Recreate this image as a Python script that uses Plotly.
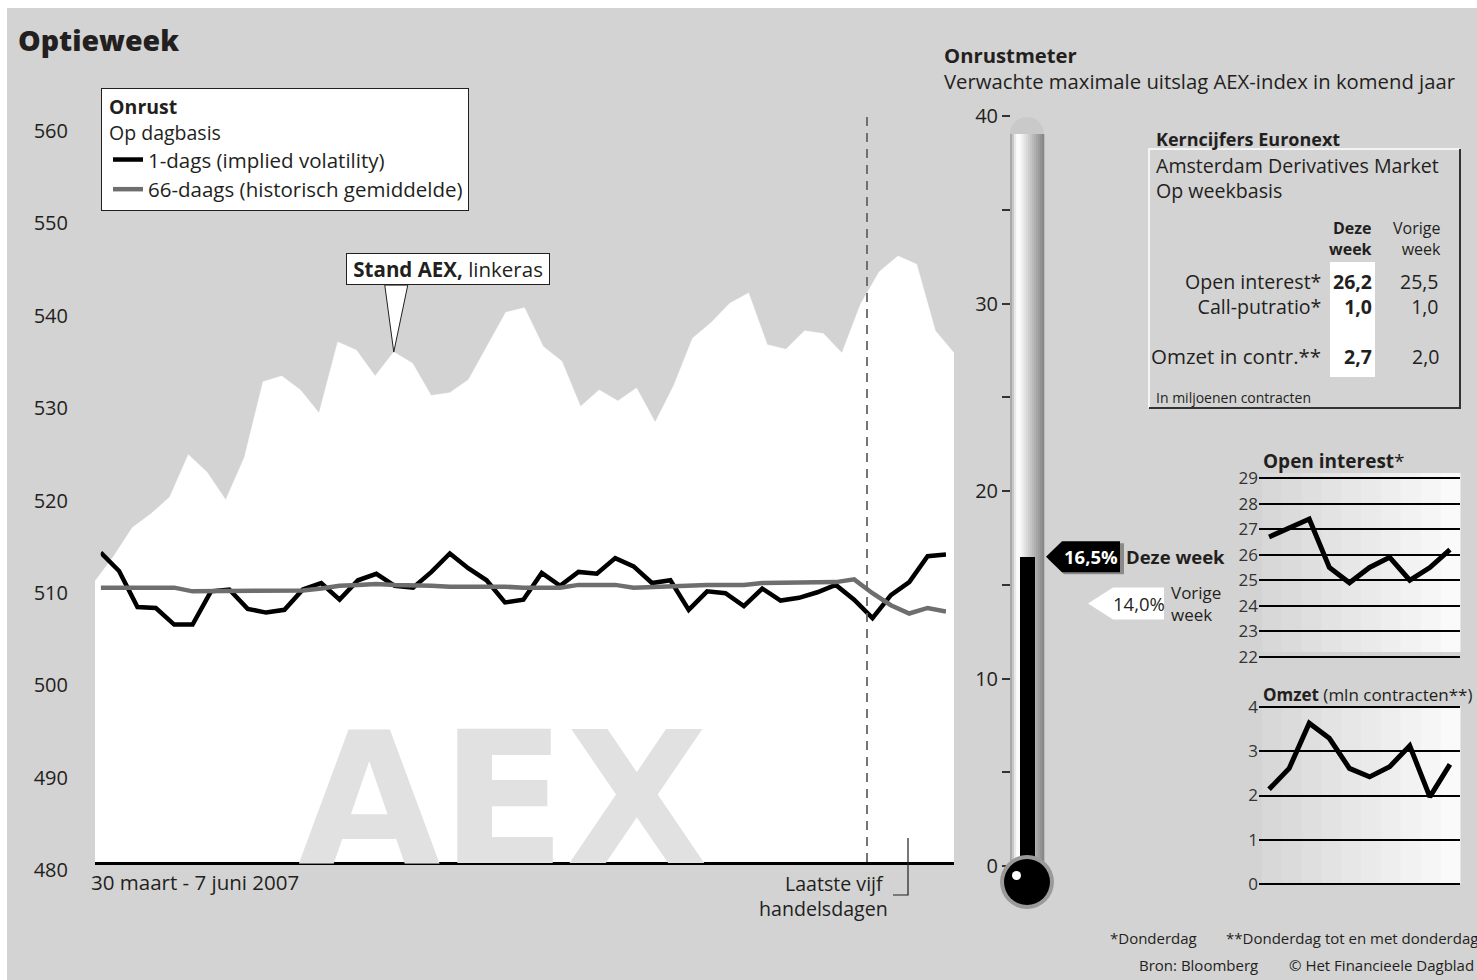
import plotly.graph_objects as go
import pandas as pd

W, H = 1477, 980
def px(x): return x / W
def py(y): return 1 - y / H

FONT = "'Open Sans', 'Noto Sans', sans-serif"
BG = "#d3d3d3"
INK = "#231f20"
BODY = 20.5

# ---------------- data ----------------
holidays = ["2007-04-06", "2007-04-09", "2007-05-01"]
dates = [d.strftime("%d-%m-%Y") for d in pd.bdate_range("2007-03-30", "2007-06-07")
         if d.strftime("%Y-%m-%d") not in holidays]

aex = [510.4, 513.1, 516.2, 517.7, 519.5, 524.1, 522.2, 519.2, 523.8, 532.0,
       532.6, 531.1, 528.6, 536.3, 535.4, 532.6, 535.2, 534.0, 530.5, 530.8,
       532.2, 535.8, 539.5, 540.0, 535.8, 534.2, 529.3, 531.1, 529.9, 531.3,
       527.6, 531.6, 536.7, 538.4, 540.5, 541.6, 536.0, 535.5, 537.5, 537.2,
       535.1, 540.4, 543.9, 545.6, 544.7, 537.5, 535.1]

vol_1d = [513.5, 511.5, 507.6, 507.5, 505.7, 505.7, 509.3, 509.5, 507.4, 507.0,
          507.3, 509.5, 510.2, 508.4, 510.5, 511.2, 509.9, 509.7, 511.4, 513.4,
          511.8, 510.5, 508.1, 508.4, 511.3, 509.9, 511.4, 511.2, 512.9, 512.0,
          510.2, 510.5, 507.3, 509.3, 509.1, 507.7, 509.6, 508.3, 508.6, 509.2,
          510.0, 508.4, 506.4, 508.9, 510.3, 513.1, 513.3]

vol_66d = [509.7, 509.7, 509.7, 509.7, 509.7, 509.3, 509.3, 509.4, 509.4, 509.4,
           509.3, 509.4, 509.6, 509.9, 510.0, 510.1, 510.0, 510.0, 509.9, 509.8,
           509.8, 509.9, 509.8, 509.7, 509.7, 509.7, 510.0, 510.0, 510.0, 509.7,
           509.8, 509.8, 510.0, 510.0, 510.0, 510.0, 510.2, 510.2, 510.2, 510.2,
           510.3, 510.6, 509.1, 507.8, 506.9, 507.5, 507.1]

aex_ticks = [480, 490, 500, 510, 520, 530, 540, 550, 560]

vol_this_week = 16.5
vol_prev_week = 14.0
thermo_ticks = [0, 5, 10, 15, 20, 25, 30, 35, 40]
thermo_labels = ["0", "", "10", "", "20", "", "30", "", "40"]

table_rows = ["Open interest*", "Call-putratio*", "Omzet in contr.**"]
table_this = [26.2, 1.0, 2.7]
table_prev = [25.5, 1.0, 2.0]

weeks = ["w-9", "w-8", "w-7", "w-6", "w-5", "w-4", "w-3", "w-2", "w-1", "w0"]
open_interest = [26.7, 27.05, 27.4, 25.5, 24.9, 25.5, 25.9, 25.0, 25.5, 26.2]
omzet = [2.14, 2.61, 3.63, 3.29, 2.61, 2.42, 2.65, 3.12, 1.97, 2.7]
oi_ticks = [22, 23, 24, 25, 26, 27, 28, 29]
om_ticks = [0, 1, 2, 3, 4]

def nl(v):
    return f"{v:.1f}".replace(".", ",")

fig = go.Figure()

# AEX white area
fig.add_trace(go.Scatter(x=dates, y=aex, mode="lines", fill="tozeroy",
                         fillcolor="white", line=dict(color="white", width=0.5),
                         showlegend=False, hoverinfo="skip", xaxis="x", yaxis="y"))
# volatility lines
fig.add_trace(go.Scatter(x=dates, y=vol_1d, mode="lines", name="1-dags (implied volatility)",
                         line=dict(color="black", width=4.5), xaxis="x2", yaxis="y"))
fig.add_trace(go.Scatter(x=dates, y=vol_66d, mode="lines", name="66-daags (historisch gemiddelde)",
                         line=dict(color="#6e6e6e", width=4.5), xaxis="x2", yaxis="y"))
# thermometer mercury
fig.add_trace(go.Bar(x=["Deze week"], y=[vol_this_week], marker=dict(color="black", line=dict(width=0)),
                     width=1, showlegend=False, xaxis="x3", yaxis="y3", hoverinfo="skip"))
# mini charts
fig.add_trace(go.Scatter(x=weeks, y=open_interest, mode="lines", line=dict(color="black", width=5),
                         showlegend=False, xaxis="x4", yaxis="y4"))
fig.add_trace(go.Scatter(x=weeks, y=omzet, mode="lines", line=dict(color="black", width=5),
                         showlegend=False, xaxis="x5", yaxis="y5"))

shapes = []
# page background
shapes.append(dict(type="rect", xref="paper", yref="paper", x0=px(7), x1=1, y0=0, y1=py(8),
                   fillcolor=BG, line=dict(width=0), layer="below"))

# mini chart gradient backgrounds
def grad_strips(x0, x1, y0, y1, n=10):
    out = []
    w = (x1 - x0) / n
    for i in range(n):
        c = int(216 + (250 - 216) * i / (n - 1))
        out.append(dict(type="rect", xref="paper", yref="paper",
                        x0=px(x0 + i * w), x1=px(x0 + (i + 1) * w + 0.5),
                        y0=py(y1), y1=py(y0), fillcolor=f"rgb({c},{c},{c})",
                        line=dict(width=0), layer="below"))
    return out
shapes += grad_strips(1262, 1460, 473, 652)
shapes += grad_strips(1262, 1460, 706, 884)

# thermometer tube
tube_cols = [168, 200, 232, 250, 252, 246, 236, 226, 216, 206, 196, 186, 176, 166, 156, 146, 136]
tx0 = 1010
sw = 2
shapes.append(dict(type="circle", xref="paper", yref="paper", x0=px(1010), x1=px(1044),
                   y0=py(151), y1=py(117), fillcolor="#c9c9c9", line=dict(width=0), layer="below"))
for i, c in enumerate(tube_cols):
    shapes.append(dict(type="rect", xref="paper", yref="paper",
                       x0=px(tx0 + i * sw), x1=px(tx0 + (i + 1) * sw + 0.3),
                       y0=py(870), y1=py(134), fillcolor=f"rgb({c},{c},{c})",
                       line=dict(width=0), layer="below"))
# bulb
shapes.append(dict(type="circle", xref="paper", yref="paper", x0=px(1000), x1=px(1054),
                   y0=py(909), y1=py(855), fillcolor="#9a9a9a", line=dict(width=0), layer="above"))
shapes.append(dict(type="circle", xref="paper", yref="paper", x0=px(1004), x1=px(1050),
                   y0=py(905), y1=py(859), fillcolor="black", line=dict(width=0), layer="above"))
shapes.append(dict(type="circle", xref="paper", yref="paper", x0=px(1012), x1=px(1021),
                   y0=py(880), y1=py(871), fillcolor="white", line=dict(width=0), layer="above"))

# markers on thermometer (anchored to values)
shapes.append(dict(type="path", xref="paper", yref="y3", xsizemode="pixel", ysizemode="pixel",
                   xanchor=px(1048), yanchor=vol_this_week,
                   path="M0,-2 L16,13.5 L76,13.5 L76,-17.5 L16,-17.5 Z",
                   fillcolor="#8a8a8a", line=dict(width=0), layer="above"))
shapes.append(dict(type="path", xref="paper", yref="y3", xsizemode="pixel", ysizemode="pixel",
                   xanchor=px(1046), yanchor=vol_this_week,
                   path="M0,0 L16,15.5 L74,15.5 L74,-15.5 L16,-15.5 Z",
                   fillcolor="black", line=dict(width=0), layer="above"))
shapes.append(dict(type="path", xref="paper", yref="y3", xsizemode="pixel", ysizemode="pixel",
                   xanchor=px(1088), yanchor=vol_prev_week,
                   path="M0,0 L25,16 L76,16 L76,-16 L25,-16 Z",
                   fillcolor="white", line=dict(width=0), layer="above"))

# dashed line "laatste vijf handelsdagen"
shapes.append(dict(type="line", xref="paper", yref="paper", x0=px(867), x1=px(867),
                   y0=py(862), y1=py(115), line=dict(color="#666666", width=1.8, dash="9px,7px"),
                   layer="above"))
shapes.append(dict(type="path", xref="paper", yref="paper",
                   path=f"M{px(908)},{py(838)} L{px(908)},{py(895)} L{px(893)},{py(895)}",
                   line=dict(color=INK, width=1.2)))

# callout wedge anchored at the AEX point
shapes.append(dict(type="path", xref="x", yref="y", xsizemode="pixel", ysizemode="pixel",
                   xanchor=dates[16], yanchor=aex[16],
                   path="M0,0 L-9,67 L14,67 Z", fillcolor="white",
                   line=dict(color=INK, width=1), layer="above"))

# Kerncijfers box
shapes.append(dict(type="path", xref="paper", yref="paper",
                   path=f"M{px(1149)},{py(408)} L{px(1149)},{py(149)} L{px(1460)},{py(149)}",
                   line=dict(color="white", width=1.5)))
shapes.append(dict(type="path", xref="paper", yref="paper",
                   path=f"M{px(1460)},{py(149)} L{px(1460)},{py(408)} L{px(1149)},{py(408)}",
                   line=dict(color="#333333", width=2)))
shapes.append(dict(type="rect", xref="paper", yref="paper", x0=px(1330), x1=px(1375),
                   y0=py(377), y1=py(262), fillcolor="white", line=dict(width=0), layer="below"))

ann = []
def txt(x, y, s, size=BODY, anchor="left", color=INK, **kw):
    d = dict(x=px(x), y=py(y), xref="paper", yref="paper", text=s, showarrow=False,
             xanchor=anchor, yanchor="middle", font=dict(family=FONT, size=size, color=color))
    d.update(kw)
    return d

ann.append(txt(16, 40, "Optieweek",
               font=dict(family=FONT, size=28.5, color=INK, weight=800)))
ann.append(dict(x=px(503), y=py(799), xref="paper", yref="paper", text="<b>AEX</b>",
                showarrow=False, xanchor="center", yanchor="middle",
                font=dict(family="'DejaVu Sans', sans-serif", size=184, color="#e1e1e1")))
ann.append(dict(x=dates[16], y=aex[16], xref="x", yref="y",
                text="&nbsp;<b>Stand AEX,</b> linkeras&nbsp;",
                showarrow=True, ax=54, ay=-83, arrowcolor="rgba(0,0,0,0)", arrowwidth=0.1,
                bgcolor="white", bordercolor=INK, borderwidth=1, borderpad=1,
                font=dict(family=FONT, size=BODY, color=INK)))
ann.append(txt(89, 882, "30 maart - 7 juni 2007"))
ann.append(txt(890, 895.5, "Laatste vijf&nbsp;<br>handelsdagen", size=19.6, anchor="right", align="right"))

# Onrustmeter
ann.append(txt(942, 67.5, "<b>Onrustmeter</b><br>Verwachte maximale uitslag AEX-index in komend jaar",
               size=20.3, align="left"))
ann.append(dict(x=px(1091), y=vol_this_week, xref="paper", yref="y3", text=f"<b>{nl(vol_this_week)}%</b>",
                showarrow=False, xanchor="center", yanchor="middle",
                font=dict(family=FONT, size=18.5, color="white")))
ann.append(dict(x=px(1124), y=vol_this_week, xref="paper", yref="y3", text="<b>Deze week</b>",
                showarrow=False, xanchor="left", yanchor="middle",
                font=dict(family=FONT, size=18.5, color=INK)))
ann.append(dict(x=px(1139), y=vol_prev_week, xref="paper", yref="y3", text=f"{nl(vol_prev_week)}%",
                showarrow=False, xanchor="center", yanchor="middle",
                font=dict(family=FONT, size=18.5, color=INK)))
ann.append(dict(x=px(1169), y=vol_prev_week, xref="paper", yref="y3", text="Vorige<br>week",
                showarrow=False, xanchor="left", yanchor="middle", align="left",
                font=dict(family=FONT, size=17, color=INK)))

# Kerncijfers
ann.append(txt(1154, 139, "<b>Kerncijfers Euronext</b>", size=18))
ann.append(txt(1154, 177.5, "Amsterdam Derivatives Market<br>Op weekbasis", size=19.6, align="left"))
ann.append(txt(1374, 238, "<b>Deze</b><br><b>week</b>", size=16, anchor="right", align="right"))
ann.append(txt(1443, 238, "Vorige<br>week", size=16, anchor="right", align="right"))
ann.append(txt(1323, 293.5, "<br>".join(table_rows[:2]), size=19.6, anchor="right", align="right"))
ann.append(txt(1374, 293.5, "<br>".join(f"<b>{nl(v)}</b>" for v in table_this[:2]), size=19.5,
               anchor="right", align="right"))
ann.append(txt(1441, 293.5, "<br>".join(nl(v) for v in table_prev[:2]), size=19.5,
               anchor="right", align="right"))
ann.append(txt(1323, 356, table_rows[2], anchor="right"))
ann.append(txt(1374, 356, f"<b>{nl(table_this[2])}</b>", size=19.5, anchor="right"))
ann.append(txt(1441, 356, nl(table_prev[2]), size=19.5, anchor="right"))
ann.append(txt(1154, 397, "In miljoenen contracten", size=14))

# mini chart titles
ann.append(txt(1261, 461, "<b>Open interest</b>*", size=19))
ann.append(txt(1261, 694, "<b>Omzet</b> (mln contracten**)", size=17))

# footer
ann.append(txt(1108, 938, "*Donderdag", size=15))
ann.append(txt(1224, 938, "**Donderdag tot en met donderdag", size=15))
ann.append(txt(1137, 965, "Bron: Bloomberg", size=15))
ann.append(txt(1287, 965, "© Het Financieele Dagblad", size=15))

ax_hidden = dict(visible=False, fixedrange=True)

fig.update_layout(
    width=W, height=H, margin=dict(l=0, r=0, t=0, b=0, autoexpand=False),
    paper_bgcolor="white", plot_bgcolor="rgba(0,0,0,0)",
    font=dict(family=FONT, color=INK),
    showlegend=True,
    legend=dict(x=px(101), y=py(88), xanchor="left", yanchor="top", bgcolor="white",
                bordercolor=INK, borderwidth=1, font=dict(family=FONT, size=20.5, color=INK),
                title=dict(text="&nbsp;<b>Onrust</b><br>&nbsp;Op dagbasis",
                           font=dict(family=FONT, size=19.5, color=INK)),
                tracegroupgap=0, itemwidth=30, indentation=6),
    xaxis=dict(domain=[px(95), px(954)], type="category", range=[0, 46], anchor="y",
               showticklabels=False, ticks="", showgrid=False, zeroline=False,
               showline=True, linecolor="black", linewidth=3),
    yaxis=dict(domain=[py(862), py(115)], range=[480, 480 + (862 - 115) / 9.2375], anchor="x",
               tickvals=aex_ticks, ticks="outside", ticklen=22, tickcolor="rgba(0,0,0,0)",
               ticklabelshift=8, showgrid=False, zeroline=False, showline=False,
               tickfont=dict(family=FONT, size=20, color=INK)),
    xaxis2=dict(domain=[px(100.7), px(946)], type="category", range=[0, 46], anchor="y", **ax_hidden),
    xaxis3=dict(domain=[px(1020), px(1035)], type="category", range=[-0.5, 0.5], anchor="y3", **ax_hidden),
    yaxis3=dict(domain=[py(866), py(116)], range=[0, 40], anchor="free", position=px(1010),
                tickvals=thermo_ticks, ticktext=thermo_labels, ticks="outside", ticklen=8,
                tickwidth=1.5, tickcolor="#333333", showgrid=False, zeroline=False, showline=False,
                tickfont=dict(family=FONT, size=20, color=INK)),
    xaxis4=dict(domain=[px(1259), px(1460)], type="category", range=[-0.5, 9.5], anchor="y4", **ax_hidden),
    yaxis4=dict(domain=[py(659.25), py(475.75)], range=[21.9, 29.1], anchor="x4",
                tickvals=oi_ticks, ticks="", showgrid=True, gridcolor="black", gridwidth=2,
                zeroline=False, showline=False, tickfont=dict(family=FONT, size=17, color="#333333")),
    xaxis5=dict(domain=[px(1259), px(1460)], type="category", range=[-0.5, 9.5], anchor="y5", **ax_hidden),
    yaxis5=dict(domain=[py(886.5), py(704.5)], range=[-0.05, 4.05], anchor="x5",
                tickvals=om_ticks, ticks="", showgrid=True, gridcolor="black", gridwidth=2,
                zeroline=False, showline=False, tickfont=dict(family=FONT, size=17, color="#333333")),
    shapes=shapes, annotations=ann, bargap=0,
)

fig.write_html("out.html")
